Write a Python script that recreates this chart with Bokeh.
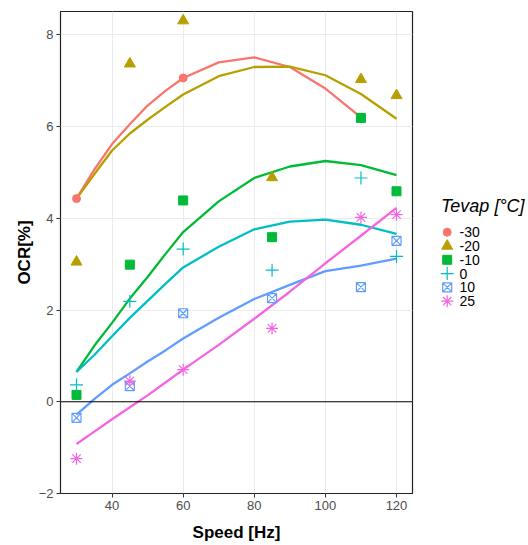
from bokeh.plotting import figure
from bokeh.layouts import row
from bokeh.models import Range1d, Span, FixedTicker, Label
from bokeh.core.properties import value
from bokeh.embed import file_html
from bokeh.resources import INLINE

# ---- categories / styling per group ----
groups = ["-30", "-20", "-10", "0", "10", "25"]
colors = ["#F8766D", "#B79F00", "#00BA38", "#00BFC4", "#619CFF", "#F564E3"]
markers = ["circle", "triangle", "square", "cross", "square_x", "asterisk"]
msizes = [8, 11, 9, 13, 9, 12]

# ---- measured points (Speed [Hz], OCR [%]) ----
speed_m30 = [30, 60, 110]
ocr_m30 = [4.43, 7.06, 6.20]
speed_m20 = [30, 45, 60, 85, 110, 120]
ocr_m20 = [3.05, 7.37, 8.31, 4.89, 7.03, 6.68]
speed_m10 = [30, 45, 60, 85, 110, 120]
ocr_m10 = [0.15, 2.99, 4.39, 3.59, 6.19, 4.59]
speed_0 = [30, 45, 60, 85, 110, 120]
ocr_0 = [0.37, 2.19, 3.33, 2.87, 4.88, 3.17]
speed_10 = [30, 45, 60, 85, 110, 120]
ocr_10 = [-0.35, 0.34, 1.93, 2.26, 2.50, 3.51]
speed_25 = [30, 45, 60, 85, 110, 120]
ocr_25 = [-1.24, 0.45, 0.70, 1.60, 4.02, 4.08]

# ---- smoothed curves ----
fit_speed = [30, 35, 40, 45, 50, 55, 60, 70, 80, 90, 100, 110, 120]
fit_speed_m30 = [30, 35, 40, 45, 50, 55, 60, 70, 80, 90, 100, 110]
fit_m30 = [4.43, 5.06, 5.62, 6.05, 6.46, 6.78, 7.06, 7.40, 7.51, 7.30, 6.83, 6.20]
fit_m20 = [4.43, 4.96, 5.48, 5.85, 6.15, 6.43, 6.70, 7.10, 7.30, 7.31, 7.12, 6.71, 6.17]
fit_m10 = [0.65, 1.22, 1.72, 2.25, 2.72, 3.22, 3.70, 4.37, 4.88, 5.13, 5.25, 5.16, 4.94]
fit_0 = [0.65, 1.02, 1.43, 1.83, 2.20, 2.57, 2.93, 3.38, 3.76, 3.93, 3.97, 3.86, 3.66]
fit_10 = [-0.28, 0.06, 0.37, 0.62, 0.88, 1.12, 1.38, 1.83, 2.24, 2.55, 2.85, 2.97, 3.12]
fit_25 = [-0.92, -0.65, -0.38, -0.12, 0.14, 0.42, 0.70, 1.24, 1.81, 2.40, 3.02, 3.62, 4.23]

x_ticks = [40, 60, 80, 100, 120]
y_ticks = [-2, 0, 2, 4, 6, 8]
legend_title = "Tevap [°C]"

points = [(speed_m30, ocr_m30), (speed_m20, ocr_m20), (speed_m10, ocr_m10),
          (speed_0, ocr_0), (speed_10, ocr_10), (speed_25, ocr_25)]
curves = [(fit_speed_m30, fit_m30), (fit_speed, fit_m20), (fit_speed, fit_m10),
          (fit_speed, fit_0), (fit_speed, fit_10), (fit_speed, fit_25)]

FONT = "Liberation Sans"
TOP, FRAME_H, BOTTOM = 11, 482, 52

p = figure(frame_width=352, frame_height=FRAME_H,
           min_border_left=60, min_border_right=2,
           min_border_top=TOP, min_border_bottom=BOTTOM,
           x_range=Range1d(25.5, 124.5), y_range=Range1d(-2.0, 8.51),
           output_backend="svg", toolbar_location=None)

p.background_fill_color = "white"
p.border_fill_color = "white"
p.outline_line_color = "#222222"
p.outline_line_width = 1.2

p.xgrid.grid_line_color = "#EBEBEB"
p.ygrid.grid_line_color = "#EBEBEB"

p.xaxis.ticker = FixedTicker(ticks=x_ticks)
p.yaxis.ticker = FixedTicker(ticks=y_ticks)
for ax in (p.xaxis[0], p.yaxis[0]):
    ax.axis_line_color = None
    ax.minor_tick_line_color = None
    ax.major_tick_in = 0
    ax.major_tick_out = 4
    ax.major_tick_line_color = "#333333"
    ax.major_label_text_font = FONT
    ax.major_label_text_font_size = "13px"
    ax.major_label_text_color = "#4D4D4D"
    ax.major_label_standoff = 3
    ax.axis_label_text_font = FONT
    ax.axis_label_text_font_size = "17px"
    ax.axis_label_text_font_style = "bold"
    ax.axis_label_text_color = "black"
p.xaxis.axis_label = "Speed [Hz]"
p.yaxis.axis_label = "OCR[%]"
p.xaxis.axis_label_standoff = 10
p.yaxis.axis_label_standoff = 2

p.add_layout(Span(location=0, dimension="width", line_color="black", line_width=1))

for (cx, cy), col in zip(curves, colors):
    p.line(cx, cy, line_color=col, line_width=2.3)


def add_points(fig, sx, sy, col, mk, ms):
    if mk in ("cross", "asterisk", "square_x"):
        return fig.scatter(sx, sy, marker=mk, size=ms, line_color=col,
                           fill_color=None, line_width=1.2)
    return fig.scatter(sx, sy, marker=mk, size=ms, line_color=col,
                       fill_color=col, line_width=1)


for (sx, sy), col, mk, ms in zip(points, colors, markers, msizes):
    add_points(p, sx, sy, col, mk, ms)

# ---- legend panel (separate figure to the right, one row per group) ----
LEG_W = 114
ROW0_PX, ROW_PX = 231.7 - TOP, 13.8   # first row centre (px below frame top), row pitch
TITLE_PX = 205 - TOP                  # title centre (px below frame top)
lg = figure(frame_width=LEG_W, frame_height=FRAME_H,
            min_border_left=0, min_border_right=0,
            min_border_top=TOP, min_border_bottom=BOTTOM,
            x_range=Range1d(0, LEG_W),
            y_range=Range1d((FRAME_H - ROW0_PX) / ROW_PX, -ROW0_PX / ROW_PX),
            x_axis_location=None, y_axis_location=None,
            output_backend="svg", toolbar_location=None)
lg.grid.visible = False
lg.outline_line_color = None
lg.background_fill_color = "white"
lg.border_fill_color = "white"

KEY_X, TEXT_X = 32.7, 45.0
for i, (g, col, mk, ms) in enumerate(zip(groups, colors, markers, msizes)):
    add_points(lg, [KEY_X], [i], col, mk, ms)

lg.text(x=[TEXT_X] * len(groups), y=list(range(len(groups))), text=groups,
        text_font=value(FONT), text_font_size="14px", text_color="black",
        text_baseline="middle", text_align="left")

lg.add_layout(Label(x=26.5, y=FRAME_H - TITLE_PX, x_units="screen", y_units="screen",
                    text=legend_title, text_font=FONT, text_font_size="18px",
                    text_font_style="italic", text_color="black",
                    text_baseline="middle", text_align="left"))

layout = row(p, lg)
open("out.html", "w").write(file_html(layout, INLINE))
